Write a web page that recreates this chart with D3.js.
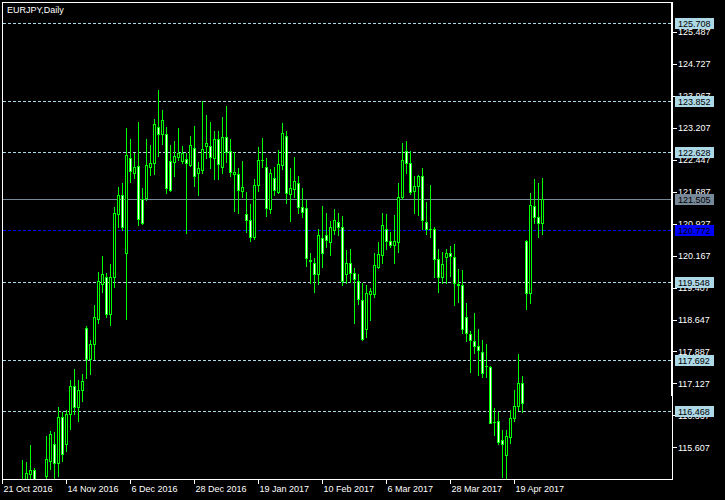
<!DOCTYPE html>
<html><head><meta charset="utf-8">
<script src="https://cdn.jsdelivr.net/npm/d3@7/dist/d3.min.js"></script>
<style>
html,body{margin:0;padding:0;background:#000;}
svg{display:block;}
text{font-family:"Liberation Sans",Arial,sans-serif;font-size:9px;}
</style></head><body>
<svg id="c" width="725" height="500"></svg>
<script>
const title = "EURJPY,Daily";
const firstBar = 5; // index of the first bar in the arrays below (bar 0 = 21 Oct 2016)
const opens = [114.70,114.80,114.97,115.07,null,null,114.92,115.29,115.69,115.24,116.33,115.69,116.39,117.07,116.57,116.96,118.44,117.70,118.06,118.65,119.49,119.67,118.77,119.65,121.15,121.60,120.22,122.50,122.14,122.31,121.51,121.53,122.28,122.36,123.22,123.05,123.05,122.41,122.39,122.51,122.41,122.46,122.32,122.72,122.13,122.20,122.78,122.78,122.48,122.93,122.27,122.98,122.66,122.12,122.10,121.70,121.15,121.01,120.62,121.84,122.43,122.27,121.27,122.02,121.67,122.32,123.01,121.63,121.75,121.90,121.32,121.29,120.06,119.98,119.74,120.59,120.65,120.48,120.78,120.96,120.84,119.72,119.98,119.75,119.57,119.10,118.43,119.25,119.25,119.89,120.19,120.81,120.51,120.41,120.50,121.55,122.66,122.37,121.70,121.82,122.06,120.97,120.80,120.79,120.08,119.65,120.13,120.22,120.13,119.49,119.46,118.71,118.30,118.13,118.01,117.87,117.55,117.52,116.21,116.23,115.78,115.42,115.86,116.31,116.58,117.13,120.51,119.27,121.34,121.08,120.95];
const highs = [115.31,115.26,115.66,115.11,null,null,115.88,116.00,115.96,116.57,116.45,116.49,117.21,117.47,117.21,117.35,118.49,118.16,118.99,119.78,120.16,119.75,119.97,121.32,121.79,121.89,123.20,122.93,122.62,123.35,121.77,122.93,122.79,123.42,124.11,123.63,123.22,122.80,122.89,123.20,122.78,122.62,123.01,123.25,122.39,123.85,123.51,123.35,123.13,123.13,123.47,123.73,122.93,122.64,122.24,122.42,121.68,121.40,121.99,122.75,122.97,122.48,122.23,122.28,122.68,123.32,123.13,122.25,122.51,122.06,121.78,121.49,120.23,120.11,120.79,121.35,121.18,120.99,121.28,121.18,121.11,120.29,120.32,119.87,119.74,119.51,119.46,119.39,120.22,120.48,121.17,121.15,120.73,121.13,121.89,122.85,122.89,122.66,122.06,122.09,122.25,121.44,121.85,120.85,120.32,120.25,120.32,120.40,120.44,119.85,119.83,119.03,118.37,118.80,118.42,118.16,118.06,117.54,116.54,116.45,116.02,116.02,116.49,116.97,117.83,117.30,120.54,121.66,121.99,121.89,122.01];
const lows = [114.55,114.70,114.70,114.70,null,null,114.80,115.08,114.80,114.93,115.28,115.53,116.05,116.39,116.24,116.72,117.26,117.36,117.70,118.56,119.29,118.70,118.52,119.43,120.84,120.78,118.67,121.93,122.02,120.90,120.92,121.49,122.08,122.12,122.54,122.83,121.66,121.70,122.07,122.43,122.38,120.70,122.30,121.83,121.60,122.14,122.48,122.26,122.00,122.00,122.13,122.40,122.07,121.24,121.19,121.57,120.74,120.52,120.56,121.70,122.27,121.12,121.19,121.61,121.66,122.22,121.43,121.00,121.56,121.19,121.08,119.93,119.52,119.31,119.49,119.90,120.38,120.19,120.68,120.65,119.48,119.52,119.55,118.57,119.02,118.15,118.24,118.64,119.19,119.87,120.00,120.33,120.38,120.00,120.26,121.51,122.14,121.64,121.19,121.13,120.79,120.69,120.62,119.67,119.31,119.51,119.52,119.68,119.00,119.07,118.33,118.13,117.41,117.84,117.33,117.29,117.29,116.19,115.90,115.69,114.91,114.80,115.72,116.24,116.49,116.45,118.90,119.05,120.94,120.60,120.67];
const closes = [114.80,115.00,115.07,114.80,null,null,115.33,115.92,115.24,116.33,115.45,116.39,117.07,116.57,116.97,117.18,117.71,118.06,118.70,119.56,119.72,118.77,119.67,121.17,121.60,120.84,122.55,122.17,122.28,121.03,120.95,122.32,122.36,123.29,123.05,123.39,121.78,121.74,122.53,122.62,122.60,122.36,122.79,122.06,122.24,122.70,122.84,122.51,122.93,122.34,123.00,122.64,122.16,122.15,121.72,121.79,121.01,120.62,121.84,122.43,122.44,121.29,122.13,121.73,122.35,123.08,121.65,121.77,121.94,121.33,121.21,120.10,120.05,119.72,120.65,120.22,120.53,120.84,121.01,120.84,119.56,119.98,119.75,119.62,119.14,118.18,119.27,119.32,119.94,120.20,120.89,120.51,120.41,120.51,121.55,122.43,122.37,121.69,121.82,122.06,121.01,120.79,120.79,120.08,119.65,119.96,120.22,120.15,119.51,119.48,118.41,118.32,118.16,118.02,117.91,117.38,117.54,116.19,116.20,115.74,115.68,115.87,116.30,116.58,117.13,116.65,119.27,121.36,121.08,120.94,121.505];

const xTickBars = [0,16,32,48,64,80,96,112,128];
const xTickLabels = ["21 Oct 2016","14 Nov 2016","6 Dec 2016","28 Dec 2016","19 Jan 2017","10 Feb 2017","6 Mar 2017","28 Mar 2017","19 Apr 2017"];
const yTicks = [125.487,124.727,123.967,123.207,122.447,121.687,120.927,120.167,119.407,118.647,117.887,117.127,116.367,115.607];
const levelLines = [125.708,123.852,122.628,119.548,117.692,116.468];
const bidPrice = 121.505;
const bluePrice = 120.772;

const svg = d3.select("#c").attr("shape-rendering","crispEdges");
svg.append("rect").attr("width",725).attr("height",500).attr("fill","#000");

const x = d3.scaleLinear().domain([0,167]).range([2,670]);
const y = d3.scaleLinear().domain([125.487,115.607]).range([32,447.3]);
const R = v => Math.round(y(v));
const GREEN = "#00ff00";

svg.append("clipPath").attr("id","plot").append("rect")
  .attr("x",3).attr("y",3).attr("width",668).attr("height",476);

// y axis labels (under the price boxes)
const yAxis = d3.axisRight(y).tickValues(yTicks).tickSize(4).tickPadding(1).tickFormat(d3.format(".3f"));
const gy = svg.append("g").attr("transform","translate(673,0)").call(yAxis);
gy.select(".domain").remove();
gy.selectAll("line").attr("stroke","#fff");
gy.selectAll("text").attr("fill","#fff").style("font-family","'Liberation Sans',Arial,sans-serif").style("font-size","9px");

// x axis
const xAxis = d3.axisBottom(x).tickValues(xTickBars).tickSize(5).tickPadding(2).tickFormat((d,i)=>xTickLabels[i]);
const gx = svg.append("g").attr("transform","translate(0,479)").call(xAxis);
gx.select(".domain").remove();
gx.selectAll("line").attr("stroke","#fff");
gx.selectAll("text").attr("fill","#fff").attr("text-anchor","start").attr("x",1)
  .style("font-family","'Liberation Sans',Arial,sans-serif").style("font-size","9px");

const plot = svg.append("g").attr("clip-path","url(#plot)");

// horizontal level lines
plot.selectAll("line.lvl").data(levelLines).enter().append("line")
  .attr("x1",3).attr("x2",671).attr("y1",d=>R(d)+0.5).attr("y2",d=>R(d)+0.5)
  .attr("stroke","#add8e6").attr("stroke-dasharray","3,2");
plot.append("line").attr("x1",3).attr("x2",671).attr("y1",R(bluePrice)+0.5).attr("y2",R(bluePrice)+0.5)
  .attr("stroke","#0000ff").attr("stroke-dasharray","3,2");
plot.append("line").attr("x1",3).attr("x2",671).attr("y1",R(bidPrice)+0.5).attr("y2",R(bidPrice)+0.5)
  .attr("stroke","#778899");

// candles
const bars = opens.map((o,i)=>({k:i+firstBar,o:o,h:highs[i],l:lows[i],c:closes[i]})).filter(d=>d.o!==null);
const g = plot.append("g");
bars.forEach(d=>{
  const cx = Math.round(x(d.k));
  const yh = R(d.h), yl = R(d.l);
  g.append("rect").attr("x",cx).attr("y",yh).attr("width",1).attr("height",yl-yh+1).attr("fill",GREEN);
  const top = R(Math.max(d.o,d.c)), bot = R(Math.min(d.o,d.c));
  const h = bot-top+1;
  g.append("rect").attr("x",cx-1).attr("y",top).attr("width",3).attr("height",h).attr("fill",GREEN);
  if (h>=3) {
    g.append("rect").attr("x",cx).attr("y",top+1).attr("width",1).attr("height",h-2)
      .attr("fill", d.c>=d.o ? "#000" : "#fff");
  }
});

// frame
svg.append("line").attr("x1",2.5).attr("x2",2.5).attr("y1",2).attr("y2",480).attr("stroke","#fff");
svg.append("line").attr("x1",2).attr("x2",673).attr("y1",2.5).attr("y2",2.5).attr("stroke","#fff");
svg.append("line").attr("x1",2).attr("x2",673).attr("y1",479.5).attr("y2",479.5).attr("stroke","#fff");
svg.append("line").attr("x1",672.5).attr("x2",672.5).attr("y1",2).attr("y2",480).attr("stroke","#fff");
svg.append("rect").attr("x",671).attr("y",2).attr("width",2).attr("height",394).attr("fill","#fff");

// price boxes
function box(p, bg){
  const yy = R(p);
  svg.append("rect").attr("x",675).attr("y",yy-5).attr("width",39).attr("height",11).attr("fill",bg);
  svg.append("text").attr("x",678).attr("y",yy+3.5).attr("fill","#000").text(d3.format(".3f")(p));
}
levelLines.forEach(p=>box(p,"#add8e6"));
box(bidPrice,"#778899");
box(bluePrice,"#0000ff");

// title
svg.append("text").attr("x",7).attr("y",13).attr("fill","#fff").text(title);
</script>
</body></html>
